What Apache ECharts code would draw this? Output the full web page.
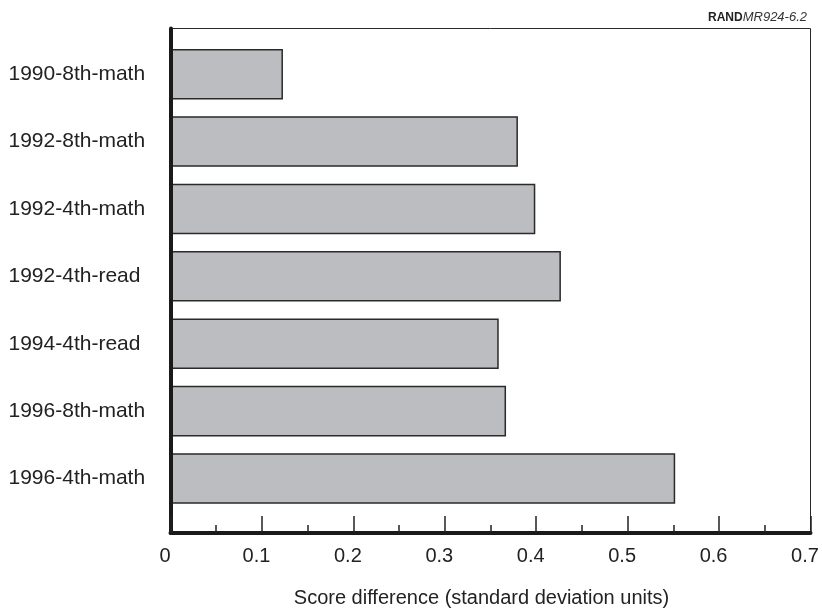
<!DOCTYPE html>
<html>
<head>
<meta charset="utf-8">
<script src="https://cdn.jsdelivr.net/npm/echarts@6/dist/echarts.min.js"></script>
<style>
html,body{margin:0;padding:0;background:#fff;}
#chart{width:822px;height:613px;}
</style>
</head>
<body>
<div id="chart"></div>
<script>
var categories = ['1990-8th-math','1992-8th-math','1992-4th-math','1992-4th-read','1994-4th-read','1996-8th-math','1996-4th-math'];
var scoreDiff = [0.123, 0.380, 0.399, 0.427, 0.359, 0.367, 0.552];
var xMin = 0, xMax = 0.7, xInterval = 0.1;
var axisTitle = 'Score difference (standard deviation units)';
var sourceBold = 'RAND', sourceItalic = 'MR924-6.2';

var FONT = '"Liberation Sans", Arial, Helvetica, sans-serif';
var chart = echarts.init(document.getElementById('chart'), null, {renderer:'canvas'});
chart.setOption({
  animation: false,
  backgroundColor: '#fff',
  textStyle: {fontFamily: FONT},
  title: {
    text: '{b|' + sourceBold + '}{i|' + sourceItalic + '}',
    right: 10, top: 6,
    textStyle: {
      fontWeight: 'normal',
      rich: {
        b: {fontFamily: FONT, fontWeight: 'bold', fontSize: 12, color: '#222'},
        i: {fontFamily: FONT, fontStyle: 'italic', fontWeight: 'normal', fontSize: 13, color: '#333'}
      }
    }
  },
  grid: [
    {left: 170.5, right: 11.5, top: 40.5, bottom: 100.8, containLabel: false},
    {left: 170.5, right: 11.5, top: 28.5, bottom: 79, show: true, borderColor: '#2a2a2a', borderWidth: 1, backgroundColor: 'transparent', containLabel: false}
  ],
  xAxis: [
    {gridIndex: 0, type: 'value', min: xMin, max: xMax, interval: xInterval, show: false},
    {
      gridIndex: 1, type: 'value', min: xMin, max: xMax, interval: xInterval, z: 5,
      axisLine: {show: true, onZero: false, lineStyle: {color: '#1a1a1a', width: 4}},
      axisTick: {show: true, inside: true, length: 17, lineStyle: {color: '#222', width: 1.5}},
      minorTick: {show: true, splitNumber: 2, length: 8, lineStyle: {color: '#222', width: 1.5}},
      splitLine: {show: false}, minorSplitLine: {show: false},
      axisLabel: {
        fontSize: 20, color: '#222', margin: 13, padding: [0, 11, 0, 0], fontFamily: FONT,
        formatter: function (v) { return v === 0 ? '0' : String(Math.round(v * 10) / 10); }
      },
      name: axisTitle, nameLocation: 'middle', nameGap: 55,
      nameTextStyle: {fontSize: 20, color: '#222', fontFamily: FONT, padding: [0, 18, 0, 0]}
    }
  ],
  yAxis: [
    {
      gridIndex: 0, type: 'category', data: categories, inverse: true,
      axisLine: {show: false}, axisTick: {show: false}, splitLine: {show: false},
      axisLabel: {fontSize: 21, color: '#222', margin: 162, align: 'left', fontFamily: FONT}
    },
    {
      gridIndex: 1, type: 'value', min: 0, max: 1, z: 5,
      axisLine: {show: true, onZero: false, lineStyle: {color: '#1a1a1a', width: 4}},
      axisTick: {show: false}, axisLabel: {show: false}, splitLine: {show: false}
    }
  ],
  series: [{
    type: 'bar', xAxisIndex: 0, yAxisIndex: 0, data: scoreDiff, barWidth: '75%', z: 1,
    itemStyle: {color: '#bcbdc1', borderColor: '#2a2a2a', borderWidth: 1.5},
    emphasis: {disabled: true}
  }]
});
</script>
</body>
</html>
